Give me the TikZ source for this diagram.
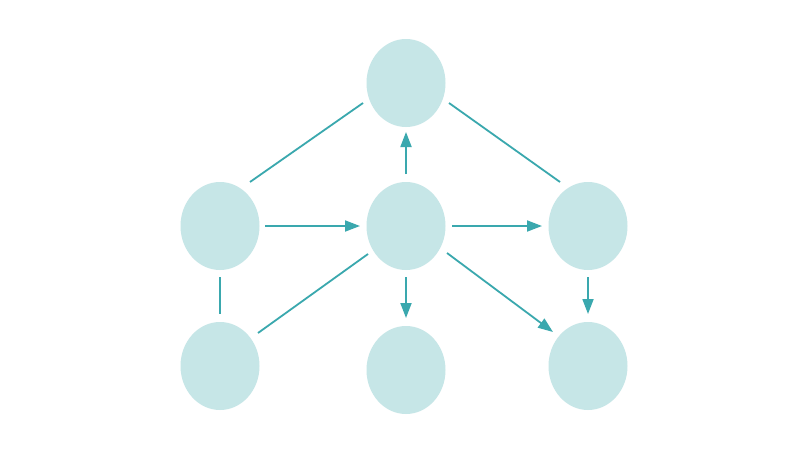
\documentclass[tikz,border=0pt]{standalone}
\usetikzlibrary{shapes.geometric,arrows.meta,calc,backgrounds}
\definecolor{nodefill}{HTML}{C6E6E7}
\definecolor{edgecol}{HTML}{3AA8AE}
\definecolor{halocol}{HTML}{9FCFD2}
\tikzset{
  circnode/.style={ellipse,fill=nodefill,draw=none,minimum width=79pt,minimum height=88pt,inner sep=0pt},
  edge/.style={draw=edgecol,line width=1.8pt},
  arr/.style={edge,-{Triangle[length=15pt,width=11pt]}}
}
\begin{document}
\begin{tikzpicture}[x=1pt,y=-1pt]
\useasboundingbox (0,0) rectangle (800,450);
\fill[white] (0,0) rectangle (800,450);
% nodes
\node[circnode] (top) at (406,83) {};
\node[circnode] (ml) at (220,226) {};
\node[circnode] (mc) at (406,226) {};
\node[circnode] (mr) at (588,226) {};
\node[circnode] (bl) at (220,366) {};
\node[circnode] (bc) at (406,370) {};
\node[circnode] (br) at (588,366) {};
% soft halos
\begin{pgfonlayer}{background}
\foreach \n in {top,ml,mc,mr,bl,bc,br}{
  \foreach \r in {2,4,6,8}{
    \fill[halocol,opacity=0.05] ($(\n)+(2,2)$) ellipse ({39.5+\r} and {44+\r});
  }
}
\end{pgfonlayer}
% connectors
\draw[edge] ($(ml)+(30,-44)$) -- ($(top)+(-43,20)$);
\draw[edge] ($(top)+(43,20)$) -- ($(mr)+(-28,-44)$);
\draw[arr] ($(mc)+(0,-52)$) -- ($(top)+(0,49)$);
\draw[arr] ($(ml)+(45,0)$) -- ($(mc)+(-46,0)$);
\draw[arr] ($(mc)+(46,0)$) -- ($(mr)+(-46,0)$);
\draw[edge] ($(ml)+(0,51)$) -- ($(bl)+(0,-52)$);
\draw[edge] ($(bl)+(38,-33)$) -- ($(mc)+(-38,28)$);
\draw[arr] ($(mc)+(0,51)$) -- ($(bc)+(0,-52)$);
\draw[arr] ($(mc)+(41,27)$) -- ($(br)+(-35,-34)$);
\draw[arr] ($(mr)+(0,51)$) -- ($(br)+(0,-52)$);
\end{tikzpicture}
\end{document}
